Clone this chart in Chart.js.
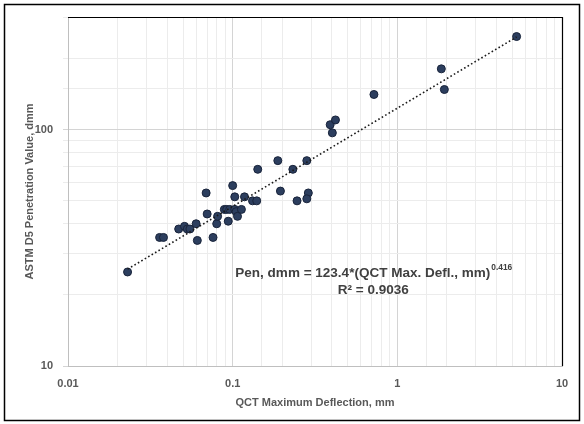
<!DOCTYPE html>
<html lang="en">
<head>
<meta charset="UTF-8">
<title>QCT Deflection vs Penetration</title>
<script src="https://cdn.jsdelivr.net/npm/chart.js@4"></script>
<style>
  html, body { margin:0; padding:0; background:#fff; }
  #wrap { width:584px; height:424px; }
</style>
</head>
<body>
<div id="wrap"><canvas id="chart" width="584" height="424"></canvas></div>
<script>
// QCT maximum deflection (mm) and ASTM D5 penetration (dmm)
const qctDefl = [0.023, 0.036, 0.038, 0.047, 0.051, 0.053, 0.055, 0.060, 0.061, 0.069,
                 0.070, 0.076, 0.080, 0.081, 0.089, 0.092, 0.096, 0.094, 0.100, 0.103,
                 0.103, 0.105, 0.107, 0.113, 0.118, 0.132, 0.140, 0.142, 0.188, 0.195,
                 0.232, 0.246, 0.282, 0.288, 0.282, 0.391, 0.421, 0.403, 0.721, 1.85,
                 1.93, 5.30];
const penValue = [25, 35, 35, 38, 39, 38, 38, 40, 34, 54,
                  44, 35, 40, 43, 46, 46, 46, 41, 58, 52,
                  46, 45, 43, 46, 52, 50, 50, 68, 74, 55,
                  68, 50, 74, 54, 51, 105, 110, 97, 141, 181,
                  148, 248];

// power trendline from the label on the chart
const fitA = 123.4;
const fitB = 0.416;
const rSquared = 0.9036;

const xTickLabels = ['0.01', '0.1', '1', '10'];
const yTickLabels = ['10', '100'];

const isDecade = v => {
  const l = Math.log10(v);
  return Math.abs(l - Math.round(l)) < 1e-6;
};
const pickLabel = (list, v) => list.find(s => Math.abs(Number(s) - v) < v * 1e-6) || '';

const points = qctDefl.map((x, i) => ({ x, y: penValue[i] }));
const xMin = Math.min(...qctDefl), xMax = Math.max(...qctDefl);
const trend = [xMin, xMax].map(x => ({ x, y: fitA * Math.pow(x, fitB) }));

const tickFont = { family: 'Liberation Sans', size: 11, weight: 'bold' };
const gridColor = c => (c.tick && isDecade(c.tick.value)) ? '#d4d4d4' : '#ececec';

// black frame round the whole chart, black top/right edges of the plot
const framePlugin = {
  id: 'frame',
  afterDraw(chart) {
    const { ctx, chartArea: a } = chart;
    ctx.save();
    ctx.strokeStyle = '#000';
    ctx.lineWidth = 1.5;
    ctx.strokeRect(4.5, 4.5, 575, 416);
    ctx.lineWidth = 1.2;
    ctx.beginPath();
    ctx.moveTo(a.left, a.top + 0.5);
    ctx.lineTo(a.right + 0.5, a.top + 0.5);
    ctx.lineTo(a.right + 0.5, a.bottom);
    ctx.stroke();
    ctx.restore();
  }
};

// trendline equation label
const eqPlugin = {
  id: 'equation',
  afterDatasetsDraw(chart) {
    const { ctx, chartArea: a } = chart;
    const cx = a.left + (a.right - a.left) * 0.618;
    const y1 = a.top + (a.bottom - a.top) * 0.733;
    const y2 = y1 + 17;
    const main = 'Pen, dmm = ' + fitA + '*(QCT Max. Defl., mm)';
    const sup = String(fitB);
    ctx.save();
    ctx.fillStyle = '#404040';
    ctx.textBaseline = 'middle';
    ctx.font = 'bold 12px "Liberation Sans"';
    const size = 12 * 255 / ctx.measureText(main).width;
    const big = 'bold ' + size.toFixed(2) + 'px "Liberation Sans"';
    const small = 'bold ' + (size * 0.62).toFixed(2) + 'px "Liberation Sans"';
    ctx.font = big;
    const wMain = ctx.measureText(main).width;
    ctx.font = small;
    const wSup = ctx.measureText(sup).width;
    const x0 = cx - (wMain + wSup) / 2;
    ctx.textAlign = 'left';
    ctx.font = big;
    ctx.fillText(main, x0, y1);
    ctx.font = small;
    ctx.fillText(sup, x0 + wMain + 1, y1 - size * 0.35);
    ctx.font = big;
    ctx.textAlign = 'center';
    ctx.fillText('R\u00b2 = ' + rSquared, cx, y2);
    ctx.restore();
  }
};

new Chart(document.getElementById('chart'), {
  type: 'scatter',
  data: {
    datasets: [
      {
        label: 'Power trend',
        data: trend,
        showLine: true,
        borderColor: '#1a1a1a',
        borderWidth: 1.6,
        borderDash: [1.6, 2.4],
        pointRadius: 0,
        fill: false
      },
      {
        label: 'Measured',
        data: points,
        pointRadius: 4,
        pointBackgroundColor: '#2c3e5e',
        pointBorderColor: '#18233a',
        pointBorderWidth: 1
      }
    ]
  },
  options: {
    responsive: false,
    devicePixelRatio: 1,
    animation: false,
    layout: { padding: { left: 14, right: 22, top: 17, bottom: 8 } },
    plugins: {
      legend: { display: false },
      tooltip: { enabled: false }
    },
    scales: {
      x: {
        type: 'logarithmic',
        min: 0.01,
        max: 10,
        afterFit: s => { s.height = 50; },
        border: { color: '#bfbfbf', width: 1 },
        grid: { color: gridColor, drawTicks: false },
        ticks: {
          autoSkip: false,
          maxRotation: 0,
          padding: 11,
          color: '#595959',
          font: tickFont,
          callback: v => isDecade(v) ? pickLabel(xTickLabels, v) : ''
        },
        title: {
          display: true,
          text: 'QCT Maximum Deflection, mm',
          color: '#595959',
          font: tickFont,
          padding: { top: 0, bottom: 6 }
        }
      },
      y: {
        type: 'logarithmic',
        min: 10,
        max: 300,
        afterFit: s => { s.width = 54; },
        border: { color: '#bfbfbf', width: 1 },
        grid: { color: gridColor, drawTicks: true, tickLength: 5 },
        ticks: {
          autoSkip: false,
          padding: 10,
          color: '#595959',
          font: tickFont,
          callback: v => isDecade(v) ? pickLabel(yTickLabels, v) : ''
        },
        title: {
          display: true,
          text: 'ASTM D5 Penetration Value, dmm',
          color: '#595959',
          font: tickFont,
          padding: { top: 9, bottom: 0 }
        }
      }
    }
  },
  plugins: [framePlugin, eqPlugin]
});
</script>
</body>
</html>
